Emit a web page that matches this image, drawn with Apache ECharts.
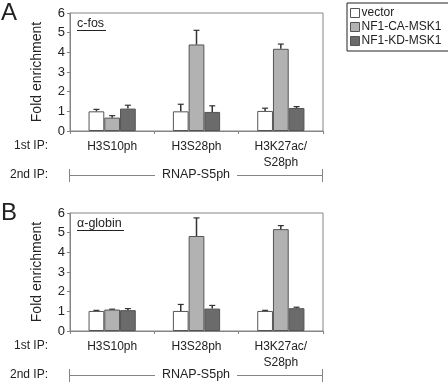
<!DOCTYPE html>
<html><head><meta charset="utf-8">
<script src="https://cdn.jsdelivr.net/npm/echarts@6/dist/echarts.min.js"></script>
<style>html,body{margin:0;padding:0;background:#fff}#c{width:448px;height:384px}</style>
</head><body><div id="c"></div>
<script>
const categories = ['H3S10ph', 'H3S28ph', 'H3K27ac/\nS28ph'];
const seriesNames = ['vector', 'NF1-CA-MSK1', 'NF1-KD-MSK1'];
const yTicks = [0, 1, 2, 3, 4, 5, 6];
// Panel A: c-fos
const cfosVector = [1.0, 1.0, 1.02];
const cfosCA = [0.68, 4.40, 4.18];
const cfosKD = [1.14, 0.97, 1.17];
const cfosVectorErr = [1.10, 1.36, 1.16];
const cfosCAErr = [0.78, 5.12, 4.42];
const cfosKDErr = [1.31, 1.28, 1.24];
// Panel B: alpha-globin
const globVector = [1.02, 1.02, 1.02];
const globCA = [1.09, 4.83, 5.18];
const globKD = [1.06, 1.14, 1.16];
const globVectorErr = [1.05, 1.35, 1.05];
const globCAErr = [1.11, 5.75, 5.36];
const globKDErr = [1.14, 1.30, 1.21];

const colors = ['#ffffff', '#b2b2b2', '#6b6b6b'];
const gapPct = 0.44;
const font = 'Liberation Sans, Arial, sans-serif';
const axisGrey = '#858585';

function panel(idx, vals, errs) {
  const out = [];
  vals.forEach((v, s) => {
    out.push({
      name: seriesNames[s], type: 'bar', xAxisIndex: idx, yAxisIndex: idx,
      data: v, barCategoryGap: (gapPct * 100) + '%', barGap: '0%',
      itemStyle: { color: colors[s], borderColor: '#555', borderWidth: 1 },
      silent: true
    });
  });
  errs.forEach((e, s) => {
    out.push({
      type: 'custom', xAxisIndex: idx, yAxisIndex: idx, silent: true, z: 5,
      data: e.map((ev, i) => [i, ev, vals[s][i]]),
      renderItem: function (params, api) {
        const cat = api.value(0);
        const top = api.coord([cat, api.value(1)]);
        const base = api.coord([cat, api.value(2)]);
        const cw = api.size([1, 0])[0];
        const bw = cw * (1 - gapPct) / 3;
        const x = top[0] + (s - 1) * bw;
        return {
          type: 'group', children: [
            { type: 'line', shape: { x1: x, y1: base[1], x2: x, y2: top[1] }, style: { stroke: '#333', lineWidth: 1.5 } },
            { type: 'line', shape: { x1: x - 3, y1: top[1], x2: x + 3, y2: top[1] }, style: { stroke: '#333', lineWidth: 1.2 } }
          ]
        };
      }
    });
  });
  return out;
}

const grids = [
  { left: 70, top: 13, width: 253, height: 118 },
  { left: 70, top: 213, width: 253, height: 118 }
].map(g => Object.assign(g, { show: true, borderColor: axisGrey, borderWidth: 1, backgroundColor: 'transparent' }));

const xAxes = [0, 1].map(i => ({
  type: 'category', gridIndex: i, data: categories,
  axisLine: { lineStyle: { color: axisGrey } },
  axisTick: { show: true, length: 3, lineStyle: { color: axisGrey } },
  axisLabel: { color: '#222', fontSize: 12, fontFamily: font, margin: 8, lineHeight: 16, interval: 0 }
}));
const yAxes = [0, 1].map(i => ({
  type: 'value', gridIndex: i, min: yTicks[0], max: yTicks[yTicks.length - 1], interval: 1,
  name: 'Fold enrichment', nameLocation: 'middle', nameGap: 26,
  nameTextStyle: { fontSize: 14, fontFamily: font, color: '#222' },
  splitLine: { show: false },
  axisLine: { show: true, lineStyle: { color: axisGrey } },
  axisTick: { show: true, length: 3, lineStyle: { color: axisGrey } },
  axisLabel: { color: '#222', fontSize: 13, fontFamily: font, margin: 5 }
}));

const graphics = [];
function txt(x, y, t, size, align, weight) {
  graphics.push({ type: 'text', x: x, y: y, silent: true,
    style: { text: t, fontSize: size, fontFamily: font, fill: '#222', align: align || 'left', verticalAlign: 'middle', fontWeight: weight || 'normal' } });
}
function ln(x1, y1, x2, y2, c, w) {
  graphics.push({ type: 'line', silent: true, shape: { x1, y1, x2, y2 }, style: { stroke: c || axisGrey, lineWidth: w || 1 } });
}
[[0, 'A', 'c-fos'], [200, 'B', 'α-globin']].forEach(([dy, letter, gene]) => {
  txt(1, 13 + dy, letter, 24, 'left');
  txt(77, 24 + dy, gene, 12.5, 'left');
  const uw = gene === 'c-fos' ? 29 : 47;
  ln(77, 30.5 + dy, 77 + uw, 30.5 + dy, '#222', 1);
  txt(48, 146 + dy, '1st IP:', 12, 'right');
  txt(48, 175 + dy, '2nd IP:', 12, 'right');
  txt(196, 175 + dy, 'RNAP-S5ph', 12.5, 'center');
  ln(69.5, 175.5 + dy, 155, 175.5 + dy);
  ln(237, 175.5 + dy, 322.5, 175.5 + dy);
  ln(69.5, 169 + dy, 69.5, 182 + dy);
  ln(322.5, 169 + dy, 322.5, 182 + dy);
});

const chart = echarts.init(document.getElementById('c'), null, { renderer: 'canvas' });
chart.setOption({
  animation: false,
  textStyle: { fontFamily: font },
  legend: {
    orient: 'vertical', left: 347, top: 3, data: seriesNames,
    borderColor: '#222', borderWidth: 1, padding: [4, 12, 4, 3],
    itemWidth: 9, itemHeight: 9, itemGap: 2, icon: 'rect',
    itemStyle: { borderColor: '#555', borderWidth: 1 },
    textStyle: { fontSize: 12, fontFamily: font, color: '#222', padding: [0, 0, 0, -3] },
    selectedMode: false
  },
  grid: grids, xAxis: xAxes, yAxis: yAxes,
  series: [].concat(
    panel(0, [cfosVector, cfosCA, cfosKD], [cfosVectorErr, cfosCAErr, cfosKDErr]),
    panel(1, [globVector, globCA, globKD], [globVectorErr, globCAErr, globKDErr])
  ),
  graphic: graphics
});
</script></body></html>
